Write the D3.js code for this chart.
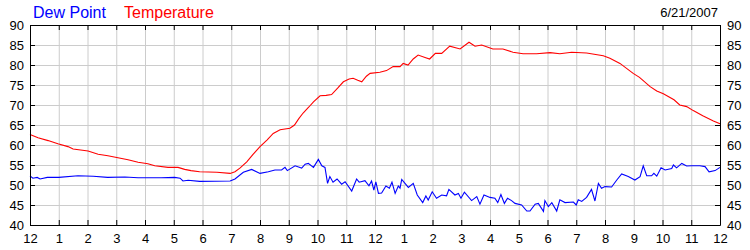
<!DOCTYPE html>
<html>
<head>
<meta charset="utf-8">
<script src="https://cdn.jsdelivr.net/npm/d3@7"></script>
<style>
  body { margin: 0; background: #fff; }
  text { font-family: Arial, "Liberation Sans", sans-serif; }
</style>
</head>
<body>
<div id="wrapper"></div>
<script>
// data: hour of day (0..24) and value in °F
const tempHours = [0, 0.28, 0.63, 0.97, 1.32, 1.5, 2.02, 2.37, 2.71, 3.06, 3.41, 3.76, 4.1, 4.34, 4.8, 5.15, 5.38, 5.6, 5.9, 6.5, 6.96, 7.13, 7.3, 7.54, 7.75, 8.0, 8.25, 8.46, 8.7, 9.04, 9.2, 9.35, 9.5, 9.7, 9.86, 10.09, 10.3, 10.49, 10.7, 10.9, 11.1, 11.24, 11.4, 11.54, 11.7, 11.83, 12.17, 12.4, 12.63, 12.87, 12.98, 13.15, 13.33, 13.5, 13.74, 13.9, 14.1, 14.32, 14.6, 14.96, 15.27, 15.48, 15.71, 16.1, 16.45, 16.8, 17.15, 17.62, 18.09, 18.43, 18.84, 19.36, 19.94, 20.17, 20.52, 20.98, 21.2, 21.57, 21.8, 22.03, 22.4, 22.6, 22.84, 23.07, 23.4, 23.77, 24]
const tempValues = [62.6, 61.8, 61.1, 60.3, 59.6, 59.0, 58.5, 57.7, 57.3, 56.8, 56.3, 55.7, 55.3, 54.8, 54.4, 54.4, 53.9, 53.6, 53.3, 53.2, 52.9, 53.3, 54.2, 55.8, 57.6, 59.6, 61.3, 62.9, 63.8, 64.2, 65.0, 66.6, 68.0, 69.5, 70.8, 72.3, 72.4, 72.6, 74.2, 75.8, 76.5, 76.7, 76.2, 75.8, 77.2, 77.9, 78.2, 78.6, 79.6, 79.6, 80.4, 80.0, 81.5, 82.5, 81.9, 81.5, 82.9, 82.9, 84.7, 84.0, 85.7, 84.7, 85.0, 84.0, 84.0, 83.2, 82.8, 82.8, 83.1, 82.8, 83.2, 83.0, 82.3, 81.7, 80.4, 77.9, 76.9, 74.6, 73.5, 72.8, 71.3, 70.0, 69.6, 68.6, 67.3, 66.0, 65.3]

const dewHours = [0, 0.1, 0.25, 0.35, 0.6, 1.0, 1.67, 2.2, 2.7, 3.3, 3.76, 4.56, 5.03, 5.22, 5.32, 5.5, 5.9, 6.96, 7.13, 7.42, 7.71, 8.0, 8.29, 8.52, 8.75, 8.87, 8.95, 9.22, 9.39, 9.45, 9.57, 9.68, 9.86, 10.03, 10.15, 10.26, 10.35, 10.43, 10.54, 10.68, 10.84, 10.96, 11.19, 11.36, 11.45, 11.65, 11.79, 11.88, 11.96, 12.03, 12.12, 12.23, 12.38, 12.5, 12.59, 12.7, 12.81, 12.87, 12.93, 13.16, 13.33, 13.47, 13.66, 13.77, 13.85, 13.99, 14.14, 14.32, 14.49, 14.57, 14.78, 14.9, 14.99, 15.11, 15.36, 15.54, 15.65, 15.79, 16.0, 16.17, 16.27, 16.38, 16.5, 16.61, 16.75, 16.87, 17.1, 17.28, 17.39, 17.57, 17.68, 17.86, 17.91, 18.03, 18.15, 18.32, 18.43, 18.61, 18.9, 19.0, 19.07, 19.19, 19.36, 19.53, 19.65, 19.77, 19.88, 20.0, 20.23, 20.41, 20.58, 20.81, 21.04, 21.22, 21.33, 21.45, 21.62, 21.7, 21.8, 21.95, 22.09, 22.32, 22.38, 22.49, 22.67, 22.84, 23.01, 23.3, 23.48, 23.62, 23.83, 24]
const dewValues = [52.3, 51.7, 51.9, 51.5, 51.9, 51.9, 52.3, 52.2, 51.9, 52.0, 51.8, 51.8, 51.9, 51.7, 51.0, 51.2, 50.9, 51.0, 51.5, 53.2, 53.9, 52.9, 53.3, 53.75, 53.75, 54.4, 53.6, 54.8, 54.4, 54.2, 55.2, 55.4, 54.4, 56.4, 54.8, 54.4, 50.4, 52.1, 50.7, 51.5, 50.2, 50.8, 48.5, 51.5, 50.7, 51.1, 49.8, 51.0, 48.75, 50.8, 47.9, 48.0, 49.75, 49.2, 50.7, 47.9, 49.75, 49.2, 51.4, 49.4, 50.4, 47.5, 45.6, 47.25, 46.25, 48.3, 46.7, 47.5, 47.3, 48.9, 47.5, 47.9, 46.7, 48.2, 46.1, 47.1, 45.2, 47.5, 46.9, 46.7, 45.6, 47.6, 45.4, 46.7, 46.1, 45.4, 45.0, 43.5, 43.5, 45.2, 45.4, 43.4, 46.1, 44.6, 45.6, 43.5, 46.3, 45.6, 45.75, 45.0, 46.3, 45.9, 46.9, 48.9, 46.0, 50.4, 49.2, 49.6, 49.5, 51.25, 52.75, 52.1, 51.25, 52.1, 54.8, 52.3, 52.3, 52.9, 52.2, 54.3, 53.75, 54.1, 55.0, 54.3, 55.4, 54.75, 54.8, 54.8, 54.6, 53.3, 53.6, 54.4]

const hourTicks = d3.range(0, 25)
const degreeTicks = d3.range(40, 91, 5)
const dateLabel = "6/21/2007"
const seriesNames = ["Dew Point", "Temperature"]
const seriesColors = ["#0000ff", "#ff0000"]

const dimensions = {
    width: 750,
    height: 250,
    margin: { top: 25, right: 30, bottom: 25, left: 30 },
}
dimensions.boundedWidth = dimensions.width - dimensions.margin.left - dimensions.margin.right
dimensions.boundedHeight = dimensions.height - dimensions.margin.top - dimensions.margin.bottom

const wrapper = d3.select("#wrapper")
    .append("svg")
    .attr("width", dimensions.width)
    .attr("height", dimensions.height)

const bounds = wrapper.append("g")
    .attr("transform", `translate(${dimensions.margin.left},${dimensions.margin.top})`)

const xScale = d3.scaleLinear()
    .domain([0, 24])
    .range([0, dimensions.boundedWidth])

const yScale = d3.scaleLinear()
    .domain([40, 90])
    .range([dimensions.boundedHeight, 0])

const hourFormat = h => (h % 12 === 0 ? 12 : h % 12)

// grid
bounds.append("g")
    .attr("class", "grid")
    .call(d3.axisBottom(xScale).tickValues(hourTicks).tickSize(dimensions.boundedHeight).tickFormat(""))
bounds.append("g")
    .attr("class", "grid")
    .call(d3.axisLeft(yScale).tickValues(degreeTicks).tickSize(-dimensions.boundedWidth).tickFormat(""))
bounds.selectAll(".grid .domain").remove()
bounds.selectAll(".grid line").attr("stroke", "#cccccc")

// lines
const dewData = dewHours.map((h, i) => [h, dewValues[i]])
const tempData = tempHours.map((h, i) => [h, tempValues[i]])
const lineGen = d3.line()
    .x(d => xScale(d[0]))
    .y(d => yScale(d[1]))

bounds.append("path")
    .datum(dewData)
    .attr("d", lineGen)
    .attr("fill", "none")
    .attr("stroke", seriesColors[0])
    .attr("stroke-width", 1.1)

bounds.append("path")
    .datum(tempData)
    .attr("d", lineGen)
    .attr("fill", "none")
    .attr("stroke", seriesColors[1])
    .attr("stroke-width", 1.1)

// axes / frame, ticks pointing inward
const xBottom = bounds.append("g")
    .attr("transform", `translate(0,${dimensions.boundedHeight})`)
    .call(d3.axisBottom(xScale).tickValues(hourTicks).tickSize(-5).tickSizeOuter(0).tickPadding(9).tickFormat(hourFormat))
const xTop = bounds.append("g")
    .call(d3.axisTop(xScale).tickValues(hourTicks).tickSize(-5).tickSizeOuter(0).tickFormat(""))
const yLeft = bounds.append("g")
    .call(d3.axisLeft(yScale).tickValues(degreeTicks).tickSize(-5).tickSizeOuter(0).tickPadding(6))
const yRight = bounds.append("g")
    .attr("transform", `translate(${dimensions.boundedWidth},0)`)
    .call(d3.axisRight(yScale).tickValues(degreeTicks).tickSize(-5).tickSizeOuter(0).tickPadding(7))

bounds.selectAll(".tick text")
    .attr("font-size", "13px")
    .attr("font-family", "Arial, 'Liberation Sans', sans-serif")
    .attr("fill", "#000")

// legend
wrapper.append("text")
    .attr("x", 33)
    .attr("y", 18)
    .text(seriesNames[0])
    .attr("fill", seriesColors[0])
    .attr("font-size", "16px")

wrapper.append("text")
    .attr("x", 124)
    .attr("y", 18)
    .text(seriesNames[1])
    .attr("fill", seriesColors[1])
    .attr("font-size", "16px")

wrapper.append("text")
    .attr("x", 718)
    .attr("y", 17)
    .text(dateLabel)
    .attr("fill", "#000")
    .attr("font-size", "13px")
    .attr("text-anchor", "end")
</script>
</body>
</html>
